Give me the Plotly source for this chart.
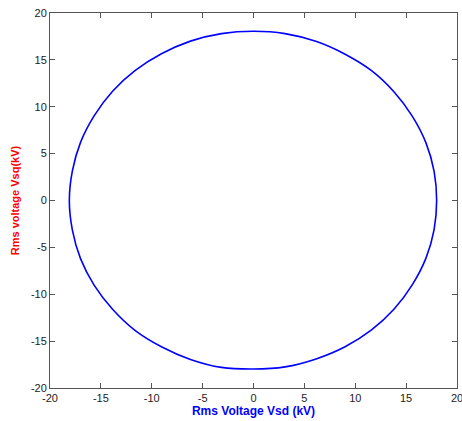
import plotly.graph_objects as go

# Locus of the rms voltage components (kV), traced once around
vsd = [0.0, 3.1, 6.2, 9.0, 11.6, 13.8, 15.6, 16.95, 17.75, 18.0,
       17.75, 16.95, 15.6, 13.8, 11.6, 9.0, 6.15, 3.1, 0.0,
       -3.15, -6.2, -9.05, -11.65, -13.85, -15.65, -17.0, -17.8, -18.1,
       -17.8, -17.0, -15.65, -13.85, -11.65, -9.05, -6.2, -3.15, 0.0]
vsq = [18.05, 17.8, 16.95, 15.6, 13.85, 11.6, 9.0, 6.15, 3.1, 0.0,
       -3.1, -6.15, -9.0, -11.6, -13.8, -15.6, -16.9, -17.75, -17.98,
       -17.8, -16.95, -15.6, -13.85, -11.6, -9.05, -6.2, -3.15, 0.0,
       3.15, 6.2, 9.05, 11.65, 13.85, 15.65, 17.0, 17.8, 18.05]

tick_vals = [-20, -15, -10, -5, 0, 5, 10, 15, 20]
tick_text = ["-20", "-15", "-10", "-5", "0", "5", "10", "15", "20"]

fig = go.Figure()
fig.add_trace(go.Scatter(
    x=vsd, y=vsq, mode="lines",
    line=dict(color="#0000ff", width=1.6, shape="spline", smoothing=1.0),
    showlegend=False, hoverinfo="skip",
))

axis_common = dict(
    range=[-20, 20], tickmode="array", tickvals=tick_vals, ticktext=tick_text,
    ticks="inside", ticklen=5, tickcolor="#555555", tickwidth=1,
    showline=True, linecolor="#555555", linewidth=1, mirror="ticks",
    showgrid=False, zeroline=False, ticklabeloverflow="allow", automargin=False,
    tickfont=dict(family="Liberation Sans", size=11, color="#222222"),
)

fig.update_xaxes(
    **axis_common,
    title=dict(text="Rms Voltage Vsd (kV)", standoff=2,
               font=dict(family="Liberation Sans", size=12, color="#0000ff", weight="bold")),
)
fig.update_yaxes(
    **axis_common,
    title=dict(text="Rms voltage Vsq(kV)", standoff=9,
               font=dict(family="Liberation Sans", size=11, color="#ff0000", weight="bold")),
)

fig.update_layout(
    width=462, height=421,
    margin=dict(l=50, r=5, t=13, b=33),
    paper_bgcolor="white", plot_bgcolor="white",
)

fig.write_html("out.html")
